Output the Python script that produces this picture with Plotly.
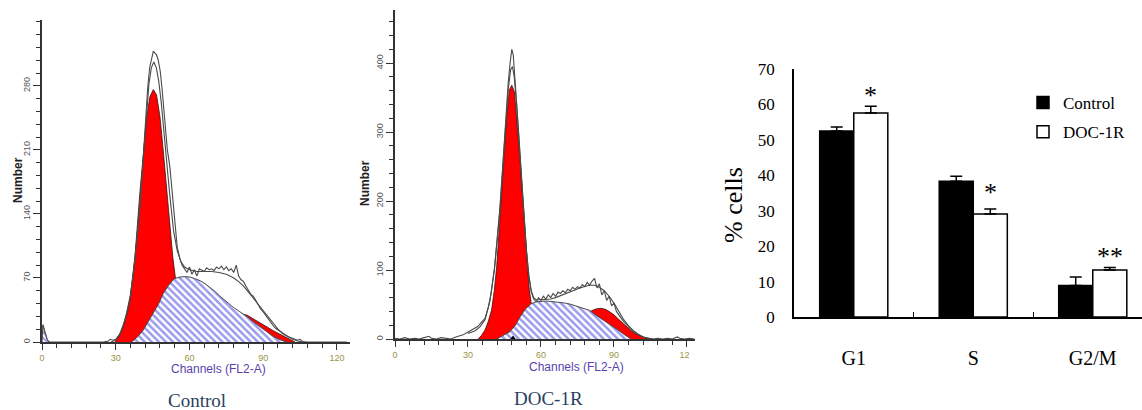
import plotly.graph_objects as go

W, H = 1142, 410

# ---------------- Control histogram (channels / counts) ----------------
ctrl_g1_ch = [29.7, 31.5, 33.1, 34.5, 35.8, 37.8, 39.9, 41.2, 42.6, 43.9, 45.3, 46.6, 48.0, 49.3,
              50.7, 52.1, 53.2, 54.5, 56, 58, 60, 63, 66]
ctrl_g1_val = [0, 7, 17, 30, 46, 93, 166, 206, 246, 268, 276, 270, 246, 210,
               166, 126, 93, 65, 42, 25, 12, 4, 0]

ctrl_s_ch = [36.5, 39, 41.2, 43, 45.3, 47.5, 49.3, 51.5, 53.7, 56, 58, 60.2, 62, 64.3, 66.5, 68.3,
             70.5, 72.4, 75, 77.8, 80.5, 83.3, 86, 88.7, 91.4, 94.1, 96.8, 99.5]
ctrl_s_val = [0, 6, 13, 21, 31, 42, 53, 62, 69, 71, 71.5, 71, 69.5, 67, 63.5, 60,
              55, 50, 44, 38, 33, 28, 22, 17, 11, 6, 2.5, 0]

ctrl_g2_ch = [70, 74, 78, 81, 83.3, 86, 88.7, 91.4, 94.1, 96.8, 99.5, 101.5, 102.9]
ctrl_g2_val = [15, 24, 29, 30.5, 29.5, 25, 21, 16.5, 12.4, 8.5, 4.7, 2, 0]

ctrl_debris_ch = [0, 0.4, 1.2, 2.0, 2.7]
ctrl_debris_val = [0, 18, 10, 3, 0]

ctrl_data_ch = [0, 0.4, 1.2, 2.2, 3, 8, 14, 20, 25, 27, 27.7, 29, 30, 31.5, 33, 34.5, 36, 37.2, 38.2,
                39.2, 40.2, 41.2, 42, 43, 43.8, 44.6, 45.3, 45.9, 46.6, 47.3, 48.1, 48.8, 49.5,
                50.3, 51, 52, 53, 54, 55, 56, 57, 58, 59, 60, 61, 62, 63, 64, 65, 66, 67, 68,
                69, 70, 71, 72, 73, 74, 75, 76, 77, 78, 79, 80, 81, 82, 83, 84, 85, 86, 87, 88,
                89, 90, 91, 92, 93, 94, 95, 96, 97, 98, 99, 100, 101, 102, 103, 104, 105, 106,
                108, 124]
ctrl_data_val = [0, 19, 11, 2, 0, 0, 0, 0, 0, 1, 3, 2, 3, 8, 18, 32, 52, 76, 100,
                 128, 160, 205, 240, 278, 300, 312, 318, 316, 314, 308, 296, 278, 258,
                 232, 210, 192, 160, 128, 104, 92, 84, 80, 76, 82, 74, 79, 72, 80, 78, 77, 81, 79,
                 80, 78, 82, 80, 83, 79, 82, 78, 80, 76, 84, 72, 68, 66, 61, 56, 52, 50, 45, 40,
                 36, 33, 29, 25, 21, 18, 15, 13, 11, 9, 8, 6, 5, 4, 3, 2, 3, 0.5,
                 0, 0]

ctrl_fit_ch = [28, 30, 32, 34, 36, 38, 40, 42, 43.5, 44.5, 45.5, 46.5, 47.5, 48.5, 49.5, 50.5, 52,
               53.5, 55, 56.5, 58, 60, 63, 66, 69, 72, 75, 78, 80, 82, 84, 86, 88, 90, 92, 94,
               96, 98, 100, 102, 104, 106]
ctrl_fit_val = [0, 2, 10, 26, 50, 95, 158, 232, 282, 300, 306, 300, 285, 262, 232, 200, 160,
                122, 100, 88, 82, 79, 77, 77, 77, 76, 74, 70, 66, 61, 55, 48, 41, 34, 27, 20,
                14, 9, 6, 3, 1, 0]

# ---------------- DOC-1R histogram ----------------
doc_g1_ch = [34.2, 35.5, 37.0, 38.3, 39.7, 40.8, 41.8, 42.5, 43.2, 44.5, 45.9, 47.0, 48.0, 49.1,
             50.0, 51.4, 52.8, 54.1, 55.2, 55.9, 57, 58.5, 60, 62, 64]
doc_g1_val = [0, 5, 13, 25, 42, 70, 105, 140, 177, 250, 322, 361, 368, 358,
              322, 259, 187, 119, 71, 54, 35, 20, 10, 3, 0]

doc_s_ch = [41.8, 44, 47.2, 49.5, 51.4, 53.5, 55.9, 58, 60, 62, 64, 66, 68, 70, 72, 74, 76, 78,
            80, 82, 84.2, 86.3, 88.4, 90.5, 92.5, 94.2, 95.9, 97]
doc_s_val = [0, 4, 10.6, 20, 32, 43, 51, 54, 55, 55, 54.5, 54, 53, 52, 50.5, 48.5, 46, 44,
             41.5, 36, 31, 26, 21, 16, 11, 6.5, 2.5, 0]

doc_g2_ch = [72, 76, 79, 80.8, 82.5, 84.5, 86.5, 88.4, 90, 91.8, 93.5, 95.2, 97, 99, 101, 103, 104.8]
doc_g2_val = [15, 28, 37, 41, 43.5, 44.5, 43, 39, 35, 29, 23, 17, 12, 7.5, 4, 1.5, 0]

doc_data_ch = [0, 2, 4, 6, 8, 10, 12, 14, 15, 17, 19, 21, 23, 25, 27, 28, 29.5, 31, 32.5, 34,
               35.5, 37, 38.3, 39.5, 40.8, 42, 43.2, 44.5, 45.5, 46.5, 47.3, 48.0, 48.6, 49.3,
               50, 51, 52, 53, 54, 55, 56, 57, 58, 59, 60, 61, 62, 63, 64, 65, 66, 67, 68, 69,
               70, 71, 72, 73, 74, 75, 76, 77, 78, 79, 80, 81, 82, 83, 84, 85, 86, 87, 88, 89,
               90, 91, 92, 93, 94, 95, 96, 97, 98, 99, 100, 101, 102, 103, 104, 106, 108, 110,
               112, 114, 116, 117, 119, 121, 123]
doc_data_val = [1, 0, 2, 0, 1, 0, 2, 4, 1, 0, 2, 1, 0, 3, 5, 6, 9, 12, 14, 18,
                24, 30, 45, 66, 100, 140, 190, 262, 320, 370, 400, 420, 412, 380,
                345, 290, 235, 180, 130, 92, 68, 58, 54, 60, 56, 62, 58, 64, 60, 66, 62, 68, 66, 70,
                67, 72, 70, 75, 72, 76, 74, 79, 76, 82, 78, 84, 88, 74, 80, 64, 70, 56, 62, 48,
                52, 40, 34, 30, 25, 21, 17, 13, 10, 8, 6, 4, 3, 2, 1, 0, 1, 0,
                1, 0, 3, 1, 0, 1, 0]

doc_fit_ch = [30, 33, 35, 37, 39, 41, 43, 45, 46.5, 47.5, 48.3, 49, 50, 51, 52, 53, 54, 55, 56,
              57, 58, 60, 62, 64, 66, 68, 70, 72, 74, 76, 78, 80, 82, 84, 86, 88, 90, 92, 94,
              96, 98, 100, 102, 104, 106]
doc_fit_val = [8, 12, 18, 28, 55, 105, 185, 290, 360, 390, 395, 380, 340, 285, 230, 175, 128, 92,
               70, 60, 57, 57, 57, 58, 60, 63, 66, 69, 72, 74, 76, 78, 78, 75, 70, 62, 52, 40, 28,
               19, 12, 7, 3, 1, 0]

doc_g1_mean = [48.5]

# ---------------- Bar chart ----------------
phases = ["G1", "S", "G2/M"]
control_pct = [52.5, 38.3, 8.9]
control_err = [1.1, 1.4, 2.4]
doc_pct = [57.6, 29.1, 13.3]
doc_err = [1.9, 1.4, 0.7]
signif = ["*", "*", "**"]
signif_y = [63.5, 36.0, 18.0]

SERIF = "Liberation Serif"
SANS = "Liberation Sans"
RED = "#ff0000"
HATCH = "#3535dc"
LINE = "#4a4a4a"
TICKC = "#9a9448"
TITLEC = "#5a3fae"


def px(x):
    return x / W


def py(y):
    return 1 - y / H


fig = go.Figure()


def add_hist(xa, ya, g1c, g1v, g2c, g2v, sc, sv, dc, dv, fc, fv):
    common = dict(xaxis=xa, yaxis=ya, showlegend=False, hoverinfo="skip", mode="lines")
    fig.add_trace(go.Scatter(x=g1c, y=g1v, fill="tozeroy", fillcolor=RED,
                             line=dict(color="#3a1010", width=0.8), **common))
    fig.add_trace(go.Scatter(x=g2c, y=g2v, fill="tozeroy", fillcolor=RED,
                             line=dict(color="#3a1010", width=0.8), **common))
    fig.add_trace(go.Scatter(x=sc, y=sv, fill="tozeroy",
                             fillpattern=dict(shape="\\", fgcolor=HATCH, bgcolor="white",
                                              size=5, solidity=0.5),
                             line=dict(color=LINE, width=1), **common))
    fig.add_trace(go.Scatter(x=fc, y=fv, line=dict(color=LINE, width=1.1), **common))
    fig.add_trace(go.Scatter(x=dc, y=dv, line=dict(color=LINE, width=1.1), **common))


add_hist("x", "y", ctrl_g1_ch, ctrl_g1_val, ctrl_g2_ch, ctrl_g2_val, ctrl_s_ch, ctrl_s_val,
         ctrl_data_ch, ctrl_data_val, ctrl_fit_ch, ctrl_fit_val)
fig.add_trace(go.Scatter(x=ctrl_debris_ch, y=ctrl_debris_val, xaxis="x", yaxis="y", mode="lines",
                         fill="tozeroy",
                         fillpattern=dict(shape="\\", fgcolor=HATCH, bgcolor="white", size=4,
                                          solidity=0.5),
                         line=dict(color=LINE, width=1), showlegend=False, hoverinfo="skip"))

add_hist("x2", "y2", doc_g1_ch, doc_g1_val, doc_g2_ch, doc_g2_val, doc_s_ch, doc_s_val,
         doc_data_ch, doc_data_val, doc_fit_ch, doc_fit_val)
fig.add_trace(go.Scatter(x=doc_g1_mean, y=[0], xaxis="x2", yaxis="y2", mode="markers",
                         marker=dict(symbol="triangle-up", size=7, color="black"),
                         showlegend=False, hoverinfo="skip", cliponaxis=False))

# bars
fig.add_trace(go.Bar(x=phases, y=control_pct, name="Control", xaxis="x3", yaxis="y3",
                     marker=dict(color="black", line=dict(color="black", width=1.5)),
                     error_y=dict(type="data", array=control_err, arrayminus=[0, 0, 0],
                                  symmetric=False, color="black", thickness=1.5, width=6),
                     legendgroup="a"))
fig.add_trace(go.Bar(x=phases, y=doc_pct, name="DOC-1R", xaxis="x3", yaxis="y3",
                     marker=dict(color="white", line=dict(color="black", width=1.5)),
                     error_y=dict(type="data", array=doc_err, arrayminus=[0, 0, 0],
                                  symmetric=False, color="black", thickness=1.5, width=6),
                     legendgroup="b"))


def hist_x(domain, rng):
    return dict(domain=domain, range=rng, tickvals=[0, 30, 60, 90, 120], showline=True,
                linecolor="#333", linewidth=1.5, ticks="outside", ticklen=6, tickcolor="#333",
                minor=dict(ticks="outside", ticklen=4, dtick=6, tick0=0, tickcolor="#333"),
                tickfont=dict(family=SANS, size=9, color=TICKC), showgrid=False,
                zeroline=False, fixedrange=True, automargin=False)


def hist_y(domain, rng, tv, mdt, anchor):
    return dict(domain=domain, range=rng, tickvals=tv, showline=True, linecolor="#333",
                linewidth=1.5, ticks="outside", ticklen=7, tickcolor="#333",
                minor=dict(ticks="outside", ticklen=4, dtick=mdt, tick0=0, tickcolor="#333"),
                tickangle=-90, tickfont=dict(family=SANS, size=9, color="#555"),
                showgrid=False, zeroline=False, anchor=anchor, automargin=False)


fig.update_layout(
    width=W, height=H, margin=dict(l=0, r=0, t=0, b=0, autoexpand=False),
    paper_bgcolor="white", plot_bgcolor="rgba(0,0,0,0)",
    xaxis=dict(anchor="y", **hist_x([px(42), px(350)], [0, 125.3])),
    yaxis=hist_y([py(342), py(20)], [0, 352], [0, 70, 140, 210, 280], 14, "x"),
    xaxis2=dict(anchor="y2", **hist_x([px(395), px(695)], [0, 123.3])),
    yaxis2=hist_y([py(339), py(10)], [0, 477], [0, 100, 200, 300, 400], 20, "x2"),
    xaxis3=dict(domain=[px(794), 1], anchor="y3", type="category", range=[-0.5, 2.412],
                showline=True, linecolor="black", linewidth=1.5, ticks="inside",
                tickson="boundaries", ticklen=5, tickcolor="black",
                tickfont=dict(family=SERIF, size=20, color="black"), ticklabelstandoff=22,
                showgrid=False, zeroline=False, automargin=False),
    yaxis3=dict(domain=[py(317), py(69)], anchor="x3", range=[0, 70], dtick=10,
                showline=True, linecolor="black", linewidth=1.5, ticks="",
                ticklabelstandoff=14, tickfont=dict(family=SERIF, size=17, color="black"),
                showgrid=False, zeroline=False, automargin=False),
    barmode="group", bargap=0.43, bargroupgap=0,
    showlegend=True,
    legend=dict(x=px(1023), y=py(85), xanchor="left", yanchor="top",
                font=dict(family=SERIF, size=17, color="black"), bgcolor="rgba(0,0,0,0)",
                traceorder="grouped", tracegroupgap=4),
)

ann = [
    dict(text="Control", x=px(197), y=py(400), font=dict(family=SERIF, size=19)),
    dict(text="DOC-1R", x=px(548), y=py(398), font=dict(family=SERIF, size=19)),
    dict(text="<b>Number</b>", x=px(18), y=py(180), textangle=-90,
         font=dict(family=SANS, size=12, color="#222")),
    dict(text="<b>Number</b>", x=px(365), y=py(183), textangle=-90,
         font=dict(family=SANS, size=12, color="#222")),
    dict(text="Channels (FL2-A)", x=px(218), y=py(369),
         font=dict(family=SANS, size=12, color=TITLEC)),
    dict(text="Channels (FL2-A)", x=px(576), y=py(367),
         font=dict(family=SANS, size=12, color=TITLEC)),
    dict(text="% cells", x=px(733), y=py(205), textangle=-90,
         font=dict(family=SERIF, size=26, color="black")),
]
for a in ann:
    a.update(xref="paper", yref="paper", showarrow=False, xanchor="center", yanchor="middle")
    fig.add_annotation(**a)

for cat, s, yv in zip(phases, signif, signif_y):
    fig.add_annotation(x=cat, y=yv, xref="x3", yref="y3", text=s, showarrow=False,
                       xshift=17, yshift=-3, font=dict(family=SERIF, size=26, color="black"))

# crop of the "120" label at the right edge of the DOC-1R panel
fig.add_shape(type="rect", xref="paper", yref="paper", x0=px(689.5), x1=px(712), y0=py(366),
              y1=py(350), fillcolor="white", line=dict(width=0), layer="above")

fig.write_html("out.html", config={"displayModeBar": False},
               post_script="document.body.style.margin='0px';document.body.style.padding='0px';")
